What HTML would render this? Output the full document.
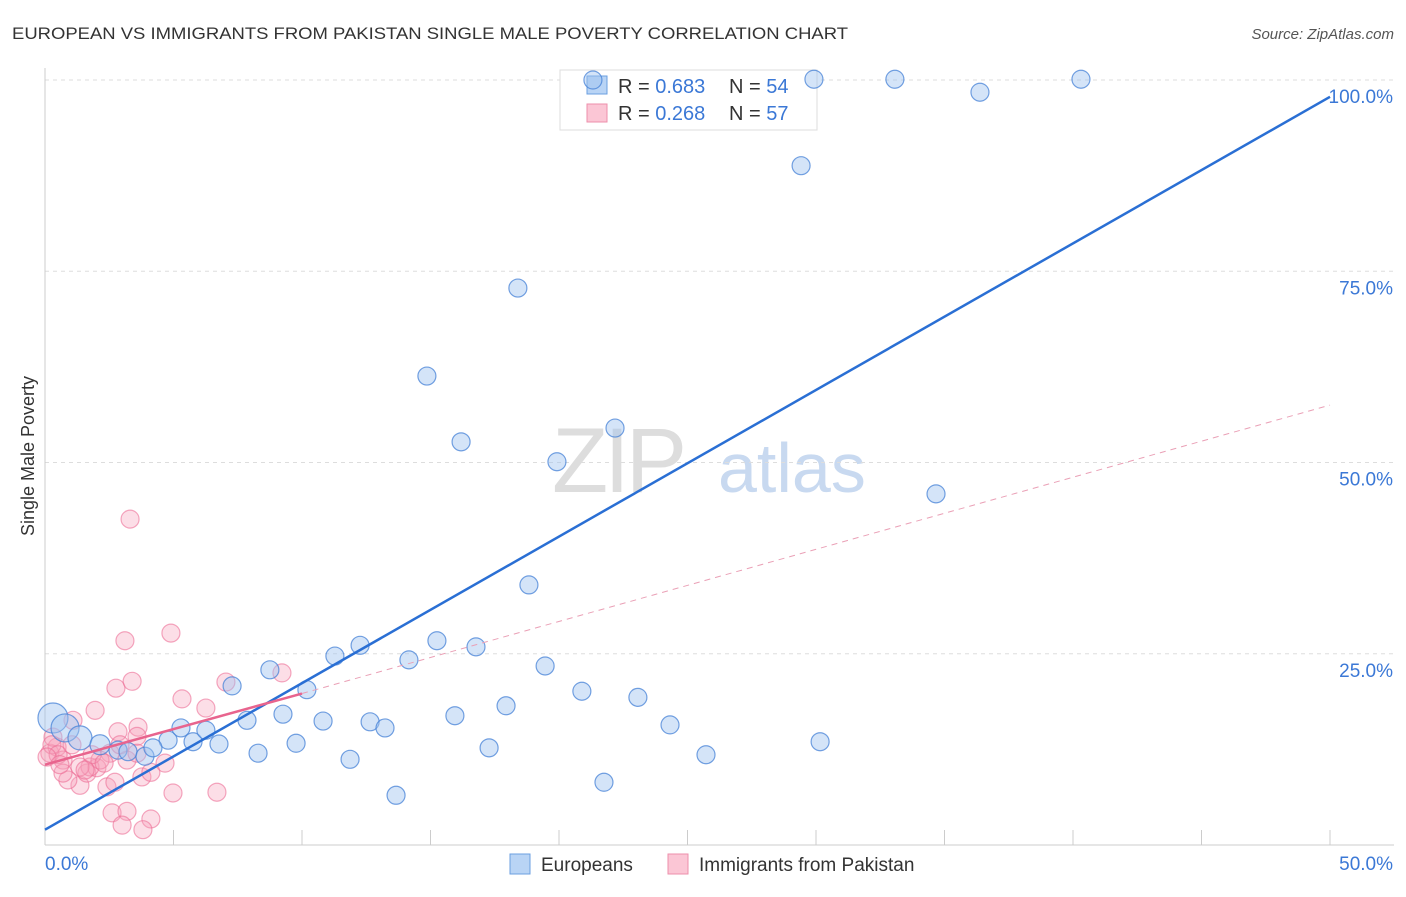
<!DOCTYPE html>
<html><head><meta charset="utf-8"><style>
body{margin:0;background:#fff;font-family:"Liberation Sans",sans-serif}
svg text{font-family:"Liberation Sans",sans-serif}
</style></head><body>
<svg width="1406" height="892" viewBox="0 0 1406 892" xmlns="http://www.w3.org/2000/svg">
<text x="12" y="39" font-size="17" fill="#333" textLength="836" lengthAdjust="spacingAndGlyphs">EUROPEAN VS IMMIGRANTS FROM PAKISTAN SINGLE MALE POVERTY CORRELATION CHART</text>
<text x="1394" y="39" font-size="15" fill="#555" font-style="italic" text-anchor="end">Source: ZipAtlas.com</text>
<g>
<text x="552" y="492" font-size="92" fill="#ddd" font-family="Liberation Serif" letter-spacing="-4">ZIP</text>
<text x="718" y="492" font-size="70" fill="#c8d9f0">atlas</text>
</g>
<g id="grid"></g>
<g id="axes"></g>
<g>
<rect x="560" y="70" width="257" height="60" fill="#fff" stroke="#ddd"/>
<rect x="587" y="76" width="20" height="18" fill="#b9d4f5" stroke="#6b9fe0"/>
<rect x="587" y="104" width="20" height="18" fill="#fbc6d5" stroke="#ee8fab"/>
<text x="618" y="93" font-size="20" fill="#333">R = <tspan fill="#3b78d6">0.683</tspan></text>
<text x="729" y="93" font-size="20" fill="#333">N = <tspan fill="#3b78d6">54</tspan></text>
<text x="618" y="120" font-size="20" fill="#333">R = <tspan fill="#3b78d6">0.268</tspan></text>
<text x="729" y="120" font-size="20" fill="#333">N = <tspan fill="#3b78d6">57</tspan></text>
</g>
<g id="pts"></g>
<g id="lines"></g>
<text x="34" y="456" font-size="18" fill="#333" transform="rotate(-90 34 456)" text-anchor="middle">Single Male Poverty</text>
<g>
<rect x="510" y="854" width="20" height="20" fill="#b9d4f5" stroke="#6b9fe0"/>
<text x="541" y="871" font-size="19" fill="#333">Europeans</text>
<rect x="668" y="854" width="20" height="20" fill="#fbc6d5" stroke="#ee8fab"/>
<text x="699" y="871" font-size="19" fill="#333">Immigrants from Pakistan</text>
</g>
</svg>
<script>
const yTicks=[25,50,75,100];
const yTickLabels=["25.0%","50.0%","75.0%","100.0%"];
const xEndLabels=["0.0%","50.0%"];
const blueX=[0.31,0.78,1.36,2.14,2.84,3.23,3.89,4.79,4.2,5.29,5.76,6.26,6.77,7.28,7.86,8.29,8.75,9.26,9.77,10.19,10.82,11.28,11.87,12.26,12.65,13.23,13.66,14.16,15.25,14.86,15.95,16.19,16.77,17.28,17.94,18.4,18.83,19.46,19.92,20.89,21.75,22.18,23.07,24.32,25.72,30.16,29.42,29.92,33.07,36.38,40.31,34.67,21.32];
const blueY=[16.6,15.3,14.0,13.1,12.4,12.2,11.6,13.7,12.7,15.3,13.5,15.0,13.2,20.8,16.3,12.0,22.9,17.1,13.3,20.3,16.2,24.7,11.2,26.1,16.1,15.3,6.5,24.2,26.7,61.3,16.9,52.7,25.9,12.7,18.2,72.8,34.0,23.4,50.1,20.1,8.2,54.5,19.3,15.7,11.8,13.5,88.8,100.1,100.1,98.4,100.1,45.9,100];
const blueR=[15,14,12,10,9,9,9,9,9,9,9,9,9,9,9,9,9,9,9,9,9,9,9,9,9,9,9,9,9,9,9,9,9,9,9,9,9,9,9,9,9,9,9,9,9,9,9,9,9,9,9,9,9];
const pinkX=[3.11,4.9,2.76,3.39,1.95,2.84,3.62,3.58,5.33,6.26,7.04,9.22,4.67,3.77,4.12,4.98,6.69,2.61,3.19,3.0,4.12,3.81,1.36,2.41,2.72,0.89,1.63,2.02,0.19,0.47,0.7,1.09,0.31,2.53,3.19,1.75,2.14,3.58,1.36,0.7,3.31,0.27,0.51,0.08,0.58,1.05,1.83,2.3,2.92,1.56];
const pinkY=[26.7,27.7,20.5,21.4,17.6,14.8,15.4,14.2,19.1,17.9,21.3,22.5,10.7,8.9,9.5,6.8,6.9,4.2,4.4,2.6,3.4,2.0,7.8,7.6,8.2,8.5,9.4,10.1,12.0,12.8,11.1,16.3,14.1,12.0,11.1,10.2,11.1,12.0,10.2,9.4,42.6,13.1,11.8,11.5,10.5,13.1,11.8,10.7,13.1,9.8];
const blueLine=[[0,2],[50,97.8]];
const pinkSolid=[[0,10.5],[10,19.8]];
const pinkDash=[[10,19.8],[50,57.5]];
const X0=45,X1=1330,Y0=845,YS=7.65;
const sx=v=>X0+(X1-X0)*v/50, sy=v=>Y0-v*YS;
const NS="http://www.w3.org/2000/svg";
function mk(t,a,p){const e=document.createElementNS(NS,t);for(const k in a)e.setAttribute(k,a[k]);p.appendChild(e);return e;}
const grid=document.getElementById('grid'),axes=document.getElementById('axes'),pts=document.getElementById('pts'),lines=document.getElementById('lines');
yTicks.forEach((v,i)=>{
 const l=mk('line',{x1:X0,x2:1394,y1:sy(v),y2:sy(v),stroke:'#ddd','stroke-dasharray':'4,4'},grid);
 
 
 const t=mk('text',{x:1393,y:sy(v)+23,'font-size':19,fill:'#3b78d6','text-anchor':'end'},grid);
 t.textContent=yTickLabels[i];
 
 
});
const ax=mk('line',{x1:X0,x2:X0,y1:68,y2:Y0,stroke:'#ccc'},axes);


const bx=mk('line',{x1:X0,x2:1394,y1:Y0,y2:Y0,stroke:'#ccc'},axes);


for(let i=1;i<=10;i++){const x=sx(i*5);const t=mk('line',{x1:x,x2:x,y1:Y0-15,y2:Y0,stroke:'#ccc'},axes);
 
 }
[[0,'start',45],[50,'end',1393]].forEach((d,i)=>{const t=mk('text',{x:d[2],y:870,'font-size':19,fill:'#3b78d6','text-anchor':d[1]},axes);t.textContent=xEndLabels[i];
 
 });
pinkX.forEach((v,i)=>{const c=mk('circle',{cx:sx(v),cy:sy(pinkY[i]),r:9,fill:'rgba(246,160,185,0.35)',stroke:'rgba(236,110,150,0.6)','stroke-width':1.2},pts);
 
 });
blueX.forEach((v,i)=>{const c=mk('circle',{cx:sx(v),cy:sy(blueY[i]),r:blueR[i],fill:'rgba(160,196,240,0.45)',stroke:'rgba(70,130,215,0.75)','stroke-width':1.2},pts);
 
 });
const lb=mk('line',{x1:sx(blueLine[0][0]),y1:sy(blueLine[0][1]),x2:sx(blueLine[1][0]),y2:sy(blueLine[1][1]),stroke:'#2a6fd4','stroke-width':2.5},lines);


const lp=mk('line',{x1:sx(pinkSolid[0][0]),y1:sy(pinkSolid[0][1]),x2:sx(pinkSolid[1][0]),y2:sy(pinkSolid[1][1]),stroke:'#e8648e','stroke-width':2.5},lines);


const ld=mk('line',{x1:sx(pinkDash[0][0]),y1:sy(pinkDash[0][1]),x2:sx(pinkDash[1][0]),y2:sy(pinkDash[1][1]),stroke:'#eaa0b6','stroke-width':1,'stroke-dasharray':'6,5'},lines);


</script>
</body></html>
